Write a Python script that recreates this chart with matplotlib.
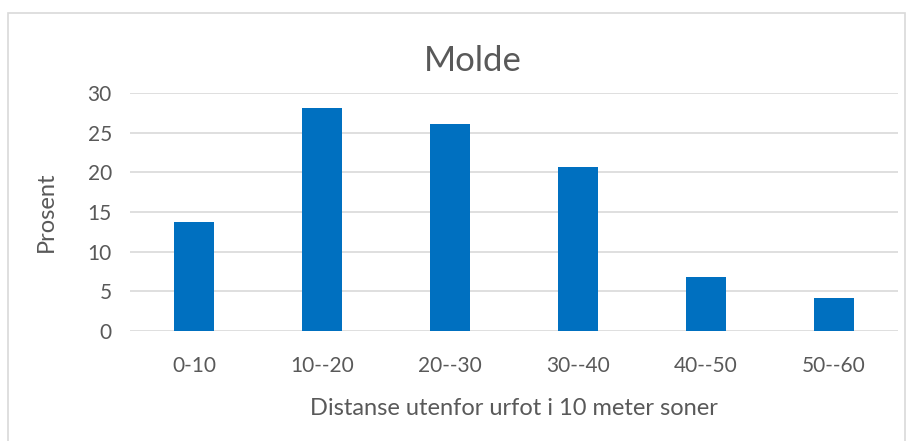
import matplotlib
matplotlib.use("Agg")
import matplotlib.pyplot as plt
from matplotlib.patches import Rectangle

plt.rcParams.update({
    "font.family": ["Lato", "DejaVu Sans"],
    "text.color": "#595959",
    "axes.labelcolor": "#595959",
    "xtick.color": "#595959",
    "ytick.color": "#595959",
})

categories = ["0-10", "10--20", "20--30", "30--40", "40--50", "50--60"]
prosent = [13.8, 28.2, 26.1, 20.7, 6.8, 4.1]
yticks = [0, 5, 10, 15, 20, 25, 30]

fig = plt.figure(figsize=(9.12, 4.41), dpi=100)
ax = fig.add_axes([0.1425, 0.25, 0.8421, 0.5384])

# chart-area frame
fig.patches.append(Rectangle((8 / 912, -0.05), 897 / 912, 1 - 13 / 441 + 0.05,
                             transform=fig.transFigure, fill=False,
                             edgecolor="#d9d9d9", linewidth=1.2))

x = range(len(categories))
ax.bar(x, prosent, width=0.31, color="#0070c0", zorder=3)
ax.set_xlim(-0.5, len(categories) - 0.5)
ax.set_ylim(0, 30)
ax.set_yticks(yticks)
ax.set_xticks(list(x))
ax.set_xticklabels(categories)
ax.tick_params(axis="both", length=0, labelsize=15)
ax.tick_params(axis="x", pad=18)
ax.tick_params(axis="y", pad=13)
ax.grid(axis="y", color="#d9d9d9", linewidth=1.2, zorder=0)
for s in ax.spines.values():
    s.set_visible(False)

ax.set_ylabel("Prosent", fontsize=17, labelpad=22)
ax.set_xlabel("Distanse utenfor urfot i 10 meter soner", fontsize=17, labelpad=16)
fig.text(0.518, 0.862, "Molde", ha="center", va="center", fontsize=25)

fig.savefig("out.png", dpi=100)
